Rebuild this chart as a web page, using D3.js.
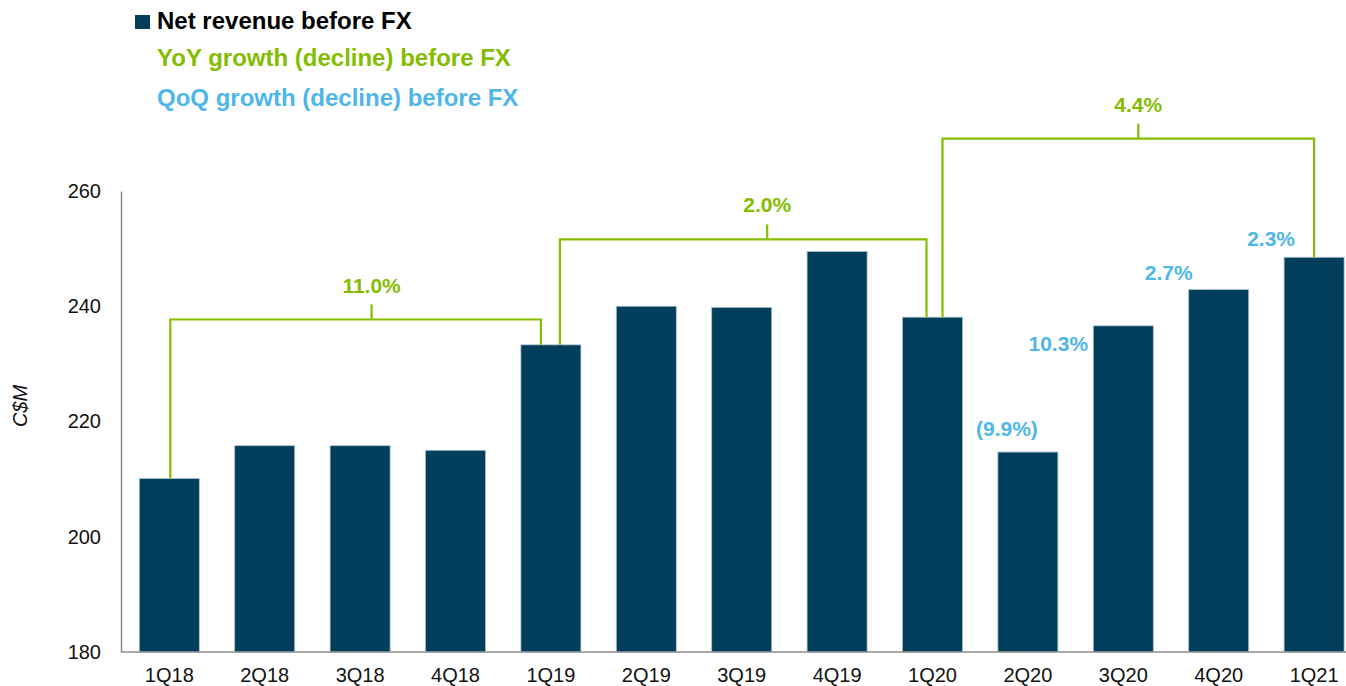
<!DOCTYPE html>
<html>
<head>
<meta charset="utf-8">
<script src="https://cdn.jsdelivr.net/npm/d3@7"></script>
<style>
  html, body { margin: 0; padding: 0; background: #fff; }
  svg { display: block; font-family: "Liberation Sans", Arial, sans-serif; }
</style>
</head>
<body>
<svg id="chart"></svg>
<script>
const width = 1346;
const height = 686;

// data
const quarters = ['1Q18', '2Q18', '3Q18', '4Q18', '1Q19', '2Q19', '3Q19', '4Q19', '1Q20', '2Q20', '3Q20', '4Q20', '1Q21'];
const revenue = [210.1, 215.8, 215.8, 215.0, 233.3, 240.0, 239.8, 249.5, 238.1, 214.7, 236.6, 242.9, 248.5];
const yTicks = [180, 200, 220, 240, 260];

// YoY brackets
const yoyFrom = ['1Q18', '1Q19', '1Q20'];
const yoyTo = ['1Q19', '1Q20', '1Q21'];
const yoyLabels = ['11.0%', '2.0%', '4.4%'];
const yoyLevel = [237.7, 251.6, 269.1];

// QoQ labels
const qoqQuarters = ['2Q20', '3Q20', '4Q20', '1Q21'];
const qoqLabels = ['(9.9%)', '10.3%', '2.7%', '2.3%'];

// layout tweaks (pixels)
const legFromDx = [1, 9, 10];
const legToDx = [-10, -6, 0];
const tickDx = [16, 24, 10];
const qoqDx = [-21, -65, -50, -43];
const qoqDy = [-16, 25, -10, -11];

const navy = '#003e5c';
const green = '#84bd00';
const blue = '#4fb6e8';
const axisGrey = '#8c8c8c';

const svg = d3.select('#chart')
    .attr('width', width)
    .attr('height', height);

const x = d3.scaleBand()
    .domain(quarters)
    .range([121.6, 121.6 + 13 * 95.4])
    .paddingInner(0.371)
    .paddingOuter(0.1855);

const y = d3.scaleLinear()
    .domain([180, 260])
    .range([652, 191]);

const cx = q => x(q) + x.bandwidth() / 2;

// bars
svg.append('g')
    .selectAll('rect')
    .data(quarters)
    .enter().append('rect')
    .attr('x', d => x(d))
    .attr('y', (d, i) => y(revenue[i]))
    .attr('width', x.bandwidth())
    .attr('height', (d, i) => y(180) - y(revenue[i]))
    .attr('fill', navy)
    .attr('stroke', '#a9c0cf')
    .attr('stroke-width', 0.8);

// axes
const yAxis = svg.append('g')
    .attr('transform', 'translate(121,0)')
    .call(d3.axisLeft(y).tickValues(yTicks).tickSize(0).tickPadding(20));
yAxis.select('.domain').attr('stroke', axisGrey).attr('stroke-width', 1.5);
yAxis.selectAll('text')
    .attr('font-size', 20)
    .attr('fill', '#111')
    .attr('font-family', '"Liberation Sans", Arial, sans-serif');

const xAxis = svg.append('g')
    .attr('transform', 'translate(0,652)')
    .call(d3.axisBottom(x).tickSize(0).tickPadding(16));
xAxis.select('.domain').attr('stroke', axisGrey).attr('stroke-width', 1.5)
    .attr('d', 'M121,0H' + width);
xAxis.selectAll('text')
    .attr('font-size', 20)
    .attr('fill', '#111')
    .attr('font-family', '"Liberation Sans", Arial, sans-serif');

// axis title
svg.append('text')
    .attr('transform', 'translate(27,406) rotate(-90)')
    .attr('text-anchor', 'middle')
    .attr('font-size', 20)
    .attr('font-style', 'italic')
    .attr('fill', '#111')
    .text('C$M');

// YoY brackets
const br = svg.append('g');
yoyFrom.forEach((from, i) => {
    const to = yoyTo[i];
    const x1 = cx(from) + legFromDx[i];
    const x2 = cx(to) + legToDx[i];
    const yl = y(yoyLevel[i]);
    const y1 = y(revenue[quarters.indexOf(from)]);
    const y2 = y(revenue[quarters.indexOf(to)]);
    const tx = (x1 + x2) / 2 + tickDx[i];
    br.append('path')
        .attr('d', `M${x1},${y1}V${yl}H${x2}V${y2}`)
        .attr('fill', 'none')
        .attr('stroke', green)
        .attr('stroke-width', 2.2);
    br.append('line')
        .attr('x1', tx).attr('x2', tx)
        .attr('y1', yl).attr('y2', yl - 15)
        .attr('stroke', green)
        .attr('stroke-width', 2.2);
    br.append('text')
        .attr('x', tx)
        .attr('y', yl - 27)
        .attr('text-anchor', 'middle')
        .attr('font-size', 21)
        .attr('font-weight', 'bold')
        .attr('fill', green)
        .text(yoyLabels[i]);
});

// QoQ labels
svg.append('g')
    .selectAll('text')
    .data(qoqQuarters)
    .enter().append('text')
    .attr('x', (d, i) => cx(d) + qoqDx[i])
    .attr('y', (d, i) => y(revenue[quarters.indexOf(d)]) + qoqDy[i])
    .attr('text-anchor', 'middle')
    .attr('font-size', 21)
    .attr('font-weight', 'bold')
    .attr('fill', blue)
    .text((d, i) => qoqLabels[i]);

// legend
const legend = svg.append('g');
legend.append('rect')
    .attr('x', 135).attr('y', 15)
    .attr('width', 15).attr('height', 14)
    .attr('fill', navy);
const legendItems = [
    { text: 'Net revenue before FX', color: '#000', y: 29 },
    { text: 'YoY growth (decline) before FX', color: green, y: 66 },
    { text: 'QoQ growth (decline) before FX', color: blue, y: 106 }
];
legend.selectAll('text')
    .data(legendItems)
    .enter().append('text')
    .attr('x', 157)
    .attr('y', d => d.y)
    .attr('font-size', 24)
    .attr('font-weight', 'bold')
    .attr('fill', d => d.color)
    .text(d => d.text);
</script>
</body>
</html>
